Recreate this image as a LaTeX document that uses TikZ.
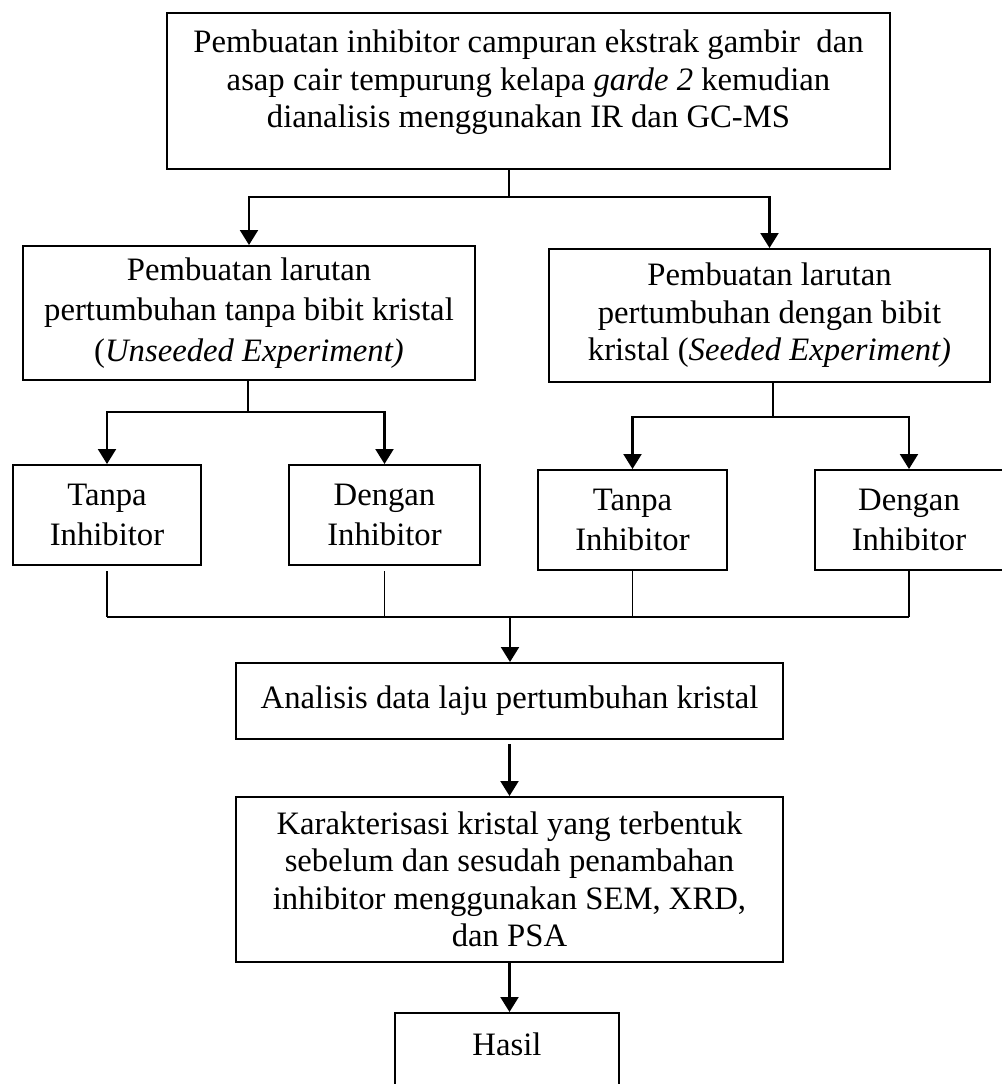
\documentclass[tikz,border=0pt]{standalone}
\usepackage{fontspec}
\setmainfont{Liberation Serif}
\usetikzlibrary{arrows.meta,positioning}
\tikzset{
    %Define standard arrow tip
    >={Triangle[length=7.5pt,width=9pt]},
    %Define style for boxes
    flownode/.style={
             rectangle,
             draw=black, line width=1pt,
             align=center, inner sep=0pt,
             font=\fontsize{16.35pt}{18.7pt}\selectfont},
    widenode/.style={
             flownode,
             font=\fontsize{16.35pt}{20.3pt}\selectfont},
    % Define line and arrow style
    flowline/.style={
            line width=0.8pt},
    flowarrow/.style={
            ->,
            line width=1.1pt}
}
\begin{document}
\begin{tikzpicture}[x=0.5pt, y=-0.5pt]
 \useasboundingbox (0,0) rectangle (1002,1084);
 \node[flownode, minimum width=361.5pt, minimum height=78pt] (inhib) at (528.5,91)
   {Pembuatan inhibitor campuran ekstrak gambir\ \ dan\\
    asap cair tempurung kelapa \textit{garde 2} kemudian\\
    dianalisis menggunakan IR dan GC-MS\\[-6.5pt]\mbox{}};
 \node[widenode, minimum width=226pt, minimum height=67pt] (unseed) at (249,313)
   {Pembuatan larutan\\ pertumbuhan tanpa bibit kristal\\ (\textit{Unseeded Experiment)}};
 \node[flownode, minimum width=220.5pt, minimum height=66.5pt] (seed) at (769.5,315.5)
   {Pembuatan larutan\\ pertumbuhan dengan bibit\\ kristal (\textit{Seeded Experiment)}};
 \node[widenode, minimum width=94pt, minimum height=50pt] (tanpaA) at (107,515) {Tanpa\\ Inhibitor};
 \node[widenode, minimum width=95.5pt, minimum height=50pt] (denganA) at (384.5,515) {Dengan\\ Inhibitor};
 \node[widenode, minimum width=94.5pt, minimum height=50pt] (tanpaB) at (632.5,520) {Tanpa\\ Inhibitor};
 \node[widenode, minimum width=94pt, minimum height=50pt] (denganB) at (909,520) {Dengan\\ Inhibitor};
 \node[flownode, minimum width=273.5pt, minimum height=38pt] (analisis) at (509.5,701)
   {Analisis data laju pertumbuhan kristal};
 \node[flownode, minimum width=273.5pt, minimum height=82.5pt] (karakter) at (509.5,879.5)
   {Karakterisasi kristal yang terbentuk\\ sebelum dan sesudah penambahan\\
    inhibitor menggunakan SEM, XRD,\\ dan PSA};
 \node[flownode, minimum width=112pt, minimum height=49.5pt] (hasil) at (507,1062.5) {Hasil\\ \mbox{}};
 % junctions
 \coordinate (splitT) at (509,197);
 \coordinate (splitA) at (248,412);
 \coordinate (splitB) at (773,417);
 \coordinate (merge) at (510,617);
 \draw[flowline] (inhib.south -| splitT) -- (splitT);
 \draw[flowarrow] (splitT) -| (unseed.north);
 \draw[flowarrow] (splitT) -| (seed.north);
 \draw[flowline] (unseed.south -| splitA) -- (splitA);
 \draw[flowarrow] (splitA) -| (tanpaA.north);
 \draw[flowarrow] (splitA) -| (denganA.north);
 \draw[flowline] (seed.south -| splitB) -- (splitB);
 \draw[flowarrow] (splitB) -| (tanpaB.north);
 \draw[flowarrow] (splitB) -| (denganB.north);
 \draw[flowline, shorten <=2.5pt] (tanpaA.south) -- (tanpaA.south |- merge);
 \draw[flowline, shorten <=2.5pt] (denganA.south) -- (denganA.south |- merge);
 \draw[flowline] (tanpaB.south) -- (tanpaB.south |- merge);
 \draw[flowline] (denganB.south) -- (denganB.south |- merge);
 \draw[flowline] (tanpaA.south |- merge) -- (denganB.south |- merge);
 \draw[flowarrow] (merge) -- (merge |- analisis.north);
 \draw[flowarrow, shorten <=2pt] (analisis.south) -- (karakter.north);
 \draw[flowarrow] (karakter.south) -- (karakter.south |- hasil.north);
\end{tikzpicture}
\end{document}
